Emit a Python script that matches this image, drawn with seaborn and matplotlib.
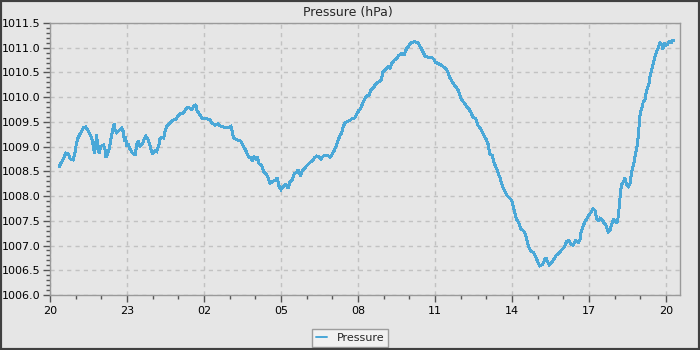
import numpy as np
import pandas as pd
import matplotlib
matplotlib.use("Agg")
import matplotlib.pyplot as plt
import matplotlib.dates as mdates
from matplotlib.patches import Rectangle
import seaborn as sns

# Minutes after 20:00 on the first evening
minutes = [
    21, 31, 37, 43, 47, 54, 58, 62, 66, 72, 78, 83, 90, 96, 100, 104, 107, 109, 112, 115,
    119, 125, 129, 131, 135, 139, 143, 147, 150, 152, 156, 164, 168, 171, 174, 177, 179, 183, 187, 192,
    199, 203, 206, 210, 216, 220, 224, 230, 235, 240, 245, 249, 255, 257, 261, 266, 269, 273, 280, 286,
    294, 298, 304, 312, 317, 322, 327, 331, 336, 341, 344, 348, 353, 356, 366, 374, 379, 386, 392, 397,
    405, 411, 417, 423, 426, 429, 434, 440, 446, 450, 454, 460, 464, 470, 473, 477, 482, 485, 489, 495,
    499, 504, 509, 514, 522, 528, 531, 535, 540, 545, 551, 557, 561, 566, 571, 577, 580, 586, 590, 596,
    602, 608, 613, 618, 623, 629, 633, 639, 644, 651, 655, 660, 665, 669, 674, 678, 682, 686, 690, 696,
    701, 707, 713, 717, 722, 725, 730, 735, 740, 746, 750, 756, 762, 769, 775, 778, 785, 791, 795, 799,
    804, 810, 816, 822, 828, 834, 838, 844, 852, 860, 865, 869, 873, 877, 884, 892, 898, 902, 908, 914,
    919, 925, 930, 935, 940, 945, 951, 956, 962, 968, 974, 979, 984, 989, 995, 1000, 1005, 1010, 1015, 1021,
    1025, 1028, 1034, 1039, 1044, 1048, 1053, 1057, 1062, 1068, 1073, 1079, 1083, 1087, 1091, 1095, 1100, 1105, 1110, 1114,
    1118, 1124, 1130, 1135, 1140, 1145, 1151, 1155, 1159, 1163, 1167, 1173, 1179, 1184, 1190, 1196, 1202, 1208, 1213, 1218,
    1223, 1229, 1235, 1239, 1241, 1244, 1248, 1251, 1255, 1260, 1265, 1269, 1274, 1278, 1282, 1286, 1291, 1296, 1301, 1305,
    1310, 1313, 1317, 1321, 1325, 1328, 1331, 1333, 1336, 1340, 1344, 1348, 1352, 1356, 1360, 1363, 1366, 1369, 1372, 1375,
    1378, 1380, 1383, 1387, 1391, 1394, 1397, 1401, 1403, 1406, 1410, 1414, 1418, 1422, 1426, 1430, 1433, 1436, 1440, 1444,
    1448, 1452, 1455, 1459,
]

# Barometric pressure readings (hPa)
pressure = [
    1008.59, 1008.75, 1008.87, 1008.85, 1008.75, 1008.73, 1008.85, 1009.08, 1009.19, 1009.28,
    1009.38, 1009.40, 1009.31, 1009.21, 1009.08, 1008.86, 1009.05, 1009.25, 1008.95, 1008.86,
    1009.01, 1009.03, 1008.93, 1008.78, 1008.86, 1008.98, 1009.18, 1009.35, 1009.47, 1009.35,
    1009.28, 1009.35, 1009.38, 1009.31, 1009.11, 1009.21, 1009.01, 1009.05, 1008.95, 1008.88,
    1008.83, 1009.05, 1009.11, 1009.01, 1009.05, 1009.15, 1009.21, 1009.13, 1008.98, 1008.85,
    1008.92, 1008.90, 1009.05, 1009.15, 1009.19, 1009.17, 1009.31, 1009.41, 1009.48, 1009.53,
    1009.55, 1009.61, 1009.67, 1009.68, 1009.75, 1009.79, 1009.78, 1009.75, 1009.81, 1009.85,
    1009.71, 1009.68, 1009.61, 1009.57, 1009.57, 1009.54, 1009.48, 1009.43, 1009.46, 1009.42,
    1009.40, 1009.38, 1009.38, 1009.41, 1009.30, 1009.19, 1009.15, 1009.13, 1009.11, 1009.05,
    1008.98, 1008.88, 1008.79, 1008.78, 1008.71, 1008.79, 1008.75, 1008.79, 1008.65, 1008.63,
    1008.50, 1008.46, 1008.39, 1008.26, 1008.30, 1008.33, 1008.37, 1008.21, 1008.13, 1008.19,
    1008.23, 1008.16, 1008.28, 1008.33, 1008.45, 1008.48, 1008.53, 1008.41, 1008.51, 1008.57,
    1008.63, 1008.68, 1008.71, 1008.77, 1008.81, 1008.79, 1008.75, 1008.81, 1008.83, 1008.81,
    1008.79, 1008.85, 1008.93, 1009.01, 1009.13, 1009.23, 1009.28, 1009.41, 1009.48, 1009.51,
    1009.53, 1009.57, 1009.58, 1009.66, 1009.73, 1009.75, 1009.85, 1009.95, 1010.02, 1010.04,
    1010.14, 1010.19, 1010.27, 1010.31, 1010.36, 1010.51, 1010.56, 1010.61, 1010.59, 1010.68,
    1010.74, 1010.78, 1010.85, 1010.88, 1010.86, 1010.99, 1011.03, 1011.10, 1011.12, 1011.10,
    1011.03, 1010.97, 1010.90, 1010.83, 1010.81, 1010.81, 1010.76, 1010.70, 1010.68, 1010.65,
    1010.62, 1010.58, 1010.51, 1010.39, 1010.32, 1010.25, 1010.19, 1010.11, 1009.95, 1009.89,
    1009.81, 1009.77, 1009.69, 1009.60, 1009.57, 1009.44, 1009.38, 1009.31, 1009.22, 1009.13,
    1009.03, 1008.86, 1008.82, 1008.66, 1008.56, 1008.46, 1008.35, 1008.22, 1008.12, 1008.02,
    1007.97, 1007.92, 1007.79, 1007.65, 1007.52, 1007.48, 1007.35, 1007.31, 1007.27, 1007.15,
    1007.00, 1006.89, 1006.86, 1006.78, 1006.68, 1006.59, 1006.61, 1006.68, 1006.76, 1006.68,
    1006.61, 1006.66, 1006.73, 1006.81, 1006.84, 1006.91, 1006.96, 1007.08, 1007.10, 1007.03,
    1007.01, 1007.10, 1007.06, 1007.11, 1007.25, 1007.33, 1007.42, 1007.49, 1007.53, 1007.62,
    1007.67, 1007.74, 1007.71, 1007.55, 1007.49, 1007.55, 1007.52, 1007.45, 1007.39, 1007.28,
    1007.32, 1007.42, 1007.53, 1007.49, 1007.45, 1007.55, 1007.79, 1007.99, 1008.23, 1008.28,
    1008.36, 1008.23, 1008.19, 1008.25, 1008.48, 1008.59, 1008.70, 1008.87, 1008.97, 1009.18,
    1009.48, 1009.68, 1009.76, 1009.90, 1009.95, 1010.09, 1010.19, 1010.29, 1010.43, 1010.53,
    1010.66, 1010.80, 1010.91, 1011.00, 1011.10, 1011.07, 1010.97, 1011.09, 1011.05, 1011.07,
    1011.14, 1011.09, 1011.15, 1011.15,
]

start = pd.Timestamp("2024-03-20 20:00")
x_end_minutes = 1473
y_min, y_max = 1006.0, 1011.5

df = pd.DataFrame({
    "time": start + pd.to_timedelta(minutes, unit="min"),
    "Pressure": pressure,
})

BG = "#e6e6e6"
LINE = "#4aa8d8"
SPINE = "#9a9a9a"

sns.set_theme(style="white")
plt.rcParams["font.family"] = ["DejaVu Sans"]

fig = plt.figure(figsize=(7, 3.5), dpi=100, facecolor=BG)
ax = fig.add_axes([50 / 700, 55 / 350, 630 / 700, 272 / 350])
ax.set_facecolor(BG)

sns.lineplot(data=df, x="time", y="Pressure", ax=ax, color=LINE,
             linewidth=1.4, label="Pressure", legend=False,
             antialiased=False, solid_joinstyle="miter")

ax.set_xlim(start, start + pd.Timedelta(minutes=x_end_minutes))
ax.set_ylim(y_min, y_max)

ax.xaxis.set_major_locator(mdates.HourLocator(byhour=range(2, 24, 3)))
ax.xaxis.set_minor_locator(mdates.HourLocator())
ax.xaxis.set_major_formatter(mdates.DateFormatter("%H"))
ax.yaxis.set_major_locator(matplotlib.ticker.MultipleLocator(0.5))
ax.yaxis.set_minor_locator(matplotlib.ticker.MultipleLocator(0.1))
ax.yaxis.set_major_formatter(matplotlib.ticker.FormatStrFormatter("%.1f"))

ax.set_xlabel("")
ax.set_ylabel("")

ax.grid(True, which="major", color="#c2c2c2", linestyle=(0, (3, 3)), linewidth=1.0)
ax.set_axisbelow(True)

for s in ax.spines.values():
    s.set_color(SPINE)
    s.set_linewidth(1.0)

ax.tick_params(axis="both", which="major", length=5, width=1, color="#555555",
               labelsize=8, labelcolor="black", pad=2)
ax.tick_params(axis="both", which="minor", length=3, width=1, color="#555555")
ax.tick_params(axis="x", which="both", bottom=True, direction="out")
ax.tick_params(axis="y", which="both", left=True, direction="out")
ax.tick_params(axis="x", which="major", pad=3)

fig.suptitle("Pressure (hPa)", x=0.497, y=0.965, fontsize=9, va="center")

handles, labels = ax.get_legend_handles_labels()
leg = fig.legend(handles, labels, loc="center", bbox_to_anchor=(350 / 700, 12 / 350),
                 frameon=True, fancybox=False, fontsize=8, handlelength=1.0,
                 handletextpad=0.9, borderpad=0.35, borderaxespad=0)
leg.get_frame().set_facecolor("#f5f5f5")
leg.get_frame().set_edgecolor("#8a8a8a")
leg.get_frame().set_linewidth(1.0)

# Dark window border around the whole figure
fig.patches.append(Rectangle((0, 0), 1, 1, transform=fig.transFigure, fill=False,
                             edgecolor="#404040", linewidth=3, zorder=10))

fig.savefig("out.png", dpi=100, facecolor=BG)
